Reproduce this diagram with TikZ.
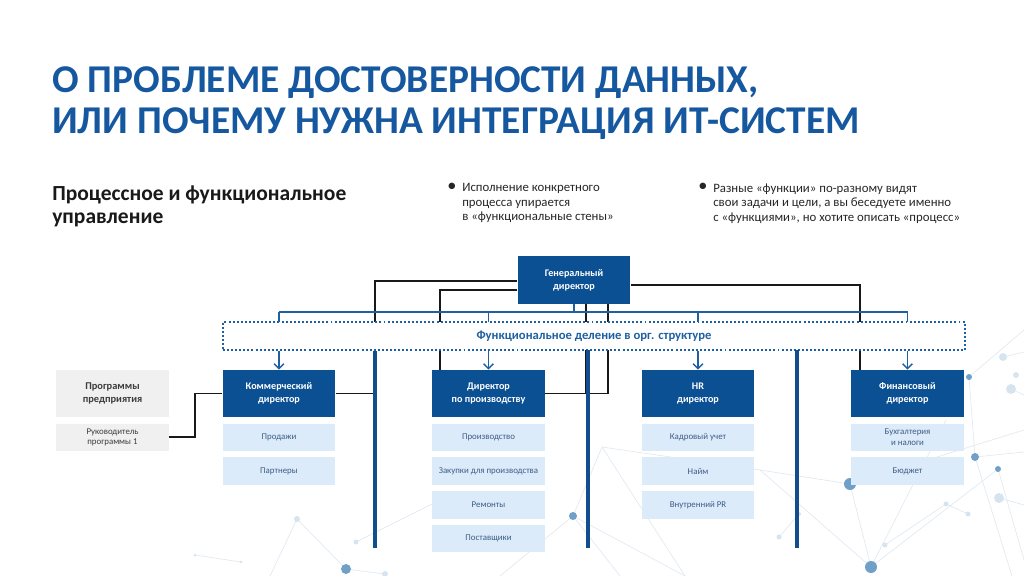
\documentclass[tikz,border=0pt]{standalone}
\usepackage{fontspec}
\setmainfont{Carlito}
\usepackage{tikz}
\usetikzlibrary{positioning,arrows.meta,calc}
\definecolor{TitleBlue}{RGB}{22,88,160}
\definecolor{HeadBlue}{RGB}{12,80,148}
\definecolor{ItemFill}{RGB}{219,235,250}
\definecolor{ItemText}{RGB}{62,92,132}
\definecolor{ProgFill}{RGB}{240,240,240}
\definecolor{ProgText}{RGB}{60,60,60}
\definecolor{BusBlue}{RGB}{30,96,162}
\definecolor{SpineBlue}{RGB}{18,78,142}
\definecolor{WireBlack}{RGB}{25,25,25}
\definecolor{NetLine}{RGB}{226,233,241}
\definecolor{NetDot}{RGB}{112,160,200}
\definecolor{NetDotLight}{RGB}{214,228,240}
\tikzset{
  head/.style={fill=HeadBlue, text=white, font=\fontsize{7.2}{9.2}\selectfont\bfseries,
    align=center, minimum width=2.82cm, minimum height=1.175cm, inner sep=0pt},
  item/.style={fill=ItemFill, text=ItemText, font=\fontsize{6.3}{7.4}\selectfont,
    align=center, minimum width=2.82cm, minimum height=0.69cm, inner sep=0pt},
  proghead/.style={fill=ProgFill, text=ProgText, font=\fontsize{7.4}{9.2}\selectfont\bfseries,
    align=center, minimum width=2.82cm, minimum height=1.175cm, inner sep=0pt},
  progitem/.style={fill=ProgFill, text=ProgText, font=\fontsize{6.3}{7.4}\selectfont,
    align=center, minimum width=2.82cm, minimum height=0.69cm, inner sep=0pt},
  funcbox/.style={draw=BusBlue, line width=1.5pt, dash pattern=on 1.4pt off 1.5pt, fill=white,
    text=BusBlue, font=\fontsize{9}{10}\selectfont\bfseries,
    minimum width=18.55cm, minimum height=0.7cm, inner sep=0pt},
  wire/.style={draw=WireBlack, line width=1.4pt},
  bus/.style={draw=BusBlue, line width=1pt},
  spine/.style={draw=SpineBlue, line width=2.3pt},
  arrow/.style={-{Straight Barb[length=3.5pt,width=7pt,line width=1.1pt]}, draw=BusBlue, line width=1.1pt},
  netline/.style={draw=NetLine, line width=0.5pt},
  bullet/.style={font=\fontsize{9.1}{10.2}\selectfont, text=black!85, align=left, inner sep=0pt, anchor=north west},
  dotmark/.style={font=\fontsize{13}{13}\selectfont, text=black!85, inner sep=0pt}
}

\begin{document}
\begin{tikzpicture}[x=0.025cm, y=-0.025cm]
  \useasboundingbox (0,0) rectangle (1024,576);

  % background network
  \foreach \xa/\ya/\xb/\yb in {602/447/573/516, 602/447/685/576, 602/447/760/470, 573/516/620/576,
    573/516/500/576, 850/484/871/567, 850/484/1024/430, 871/567/998/469, 871/567/946/420,
    975/457/1024/452, 975/457/1012/576, 998/469/1024/560, 969/377/1024/330, 969/377/975/457,
    1011/389/1024/395, 850/484/760/470, 297/519/346/569, 346/569/385/574, 297/519/270/576,
    356/542/440/500, 195/555/241/562, 885/545/946/504, 799/514/779/537, 946/504/968/514,
    760/470/871/567, 999/498/1024/505, 1003/357/1024/352, 685/576/573/516}
  {
    \draw[netline] (\xa,\ya) -- (\xb,\yb);
  }
  \foreach \x/\y/\r in {850/484/6, 871/567/6, 573/516/4, 346/569/5, 975/457/4, 998/469/3, 969/377/3}
  {
    \fill[NetDot] (\x,\y) circle[radius=\r];
  }
  \foreach \x/\y/\r in {1003/357/4, 1011/389/5, 999/498/5, 946/504/2.5, 968/514/2.5, 885/545/2.5,
    779/537/2.5, 799/514/2, 297/519/3, 356/542/2.5, 385/574/3, 195/555/1.5, 241/562/1.5, 1016/375/3}
  {
    \fill[NetDotLight] (\x,\y) circle[radius=\r];
  }

  % title
  \node[anchor=north west, inner sep=0pt, align=left, text=TitleBlue,
    font=\fontsize{28}{29.2}\selectfont\bfseries] (title) at (52,66.5)
    {О ПРОБЛЕМЕ ДОСТОВЕРНОСТИ ДАННЫХ,\\ИЛИ ПОЧЕМУ НУЖНА ИНТЕГРАЦИЯ ИТ-СИСТЕМ};
  \node[anchor=north west, inner sep=0pt, align=left, text=black!90,
    font=\fontsize{15.3}{16.6}\selectfont\bfseries] (subtitle) at (52,185.5)
    {Процессное и функциональное\\управление};

  % remarks
  \node[dotmark] (dotA) at (452,187) {•};
  \node[bullet] (noteA) at (462,183.5)
    {Исполнение конкретного\\процесса упирается\\в «функциональные стены»};
  \node[dotmark] (dotB) at (703,187) {•};
  \node[bullet] (noteB) at (713,183.5)
    {Разные «функции» по-разному видят\\свои задачи и цели, а вы беседуете именно\\с «функциями», но хотите описать «процесс»};

  % directors
  \node[head] (gd) at (574,280) {Генеральный\\директор};
  \node[head] (com) at (279,393.5) {Коммерческий\\директор};
  \node[head] (prod) at (488.5,393.5) {Директор\\по производству};
  \node[head] (hr) at (698,393.5) {HR\\директор};
  \node[head] (fin) at (907.5,393.5) {Финансовый\\директор};

  % functions
  \begin{scope}[node distance=0.14cm]
    \node[item, below=0.15cm of com] (com1) {Продажи};
    \node[item, below=of com1] (com2) {Партнеры};
    \node[item, below=0.15cm of prod] (prod1) {Производство};
    \node[item, below=of prod1] (prod2) {Закупки для производства};
    \node[item, below=of prod2] (prod3) {Ремонты};
    \node[item, below=of prod3] (prod4) {Поставщики};
    \node[item, below=0.15cm of hr] (hr1) {Кадровый учет};
    \node[item, below=of hr1] (hr2) {Найм};
    \node[item, below=of hr2] (hr3) {Внутренний PR};
    \node[item, below=0.15cm of fin] (fin1) {Бухгалтерия\\и налоги};
    \node[item, below=of fin1] (fin2) {Бюджет};

    % programs
    \node[proghead] (prog) at (112.5,393.5) {Программы\\предприятия};
    \node[progitem, below=0.15cm of prog] (progA) {Руководитель\\программы 1};
  \end{scope}

  % points on the functional box
  \coordinate (kA) at (375,322);
  \coordinate (kB) at (440,322);
  \coordinate (kC) at (860,322);
  \coordinate (busL) at (279,312);
  \coordinate (busR) at (908,312);

  % black lines from the general director
  \draw[wire] ($(gd.west)+(0,1)$) -| (kA);
  \draw[wire] ($(gd.west)+(0,10)$) -| (prod.north -| kB);
  \draw[wire] ($(gd.south)+(12,0)$) |- (prod.east);
  \draw[wire] ($(gd.south)+(34,0)$) |- ($(prod.east)+(42,0)$);
  \draw[wire] ($(gd.east)+(0,5)$) -| (fin.north -| kC);
  \draw[wire] (com.east) -- (com.east -| kA);
  \draw[wire] (progA.east) -- ++(26,0) |- (com.west);

  % blue bus to the functions
  \draw[bus] (busL) -- (busR);
  \draw[bus] (gd.south) -- (gd.south |- busL);
  \foreach \n in {com, prod, hr, fin}
  {
    \draw[bus] (\n.north |- busL) -- ++(0,10);
  }

  % functional division
  \node[funcbox] (fd) at (594,336) {Функциональное деление в орг. структуре};

  \foreach \n in {com, prod, hr, fin}
  {
    \draw[arrow] (\n.north |- fd.south) -- (\n.north);
  }
  \draw[spine] (fd.south -| kA) -- (375,548);
  \draw[spine] (588,350) -- (588,548);
  \draw[spine] (797,350) -- (797,548);
\end{tikzpicture}
\end{document}
